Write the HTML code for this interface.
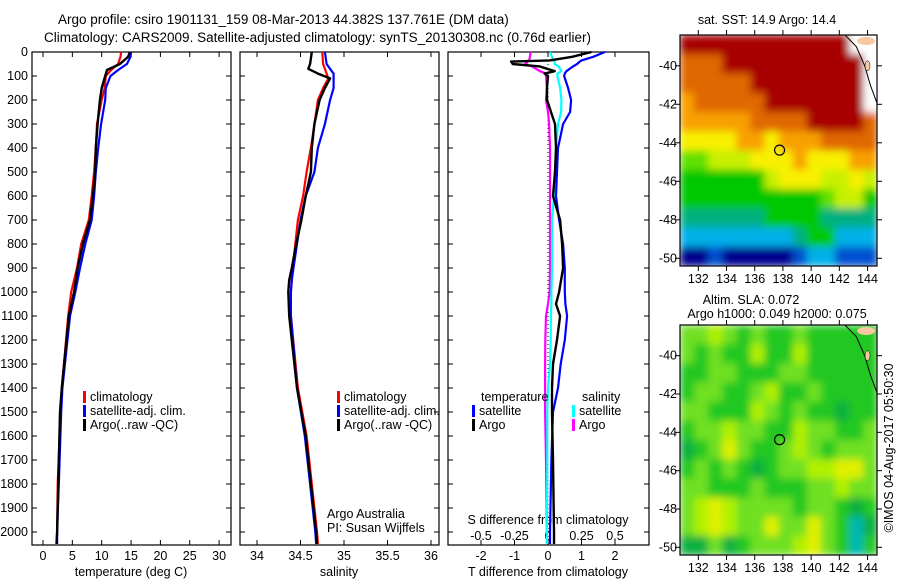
<!DOCTYPE html>
<html><head><meta charset="utf-8"><style>
body{margin:0;background:#fff;}
svg{display:block;font-family:"Liberation Sans",sans-serif;font-size:12.5px;}
</style></head><body>
<svg id="fig" width="900" height="580" xmlns="http://www.w3.org/2000/svg">
<defs>
<filter id="blur" x="0" y="0" width="1" height="1"><feGaussianBlur stdDeviation="4" edgeMode="duplicate"/></filter>
<clipPath id="clip1"><rect x="680" y="35" width="197" height="231"/></clipPath>
<clipPath id="clip2"><rect x="680" y="325" width="197" height="230"/></clipPath>
</defs>
<rect width="900" height="580" fill="#fff"/>
<text x="58" y="24" font-size="13.5">Argo profile: csiro 1901131_159 08-Mar-2013 44.382S 137.761E (DM data)</text>
<text x="44" y="42" font-size="13.5">Climatology: CARS2009. Satellite-adjusted climatology: synTS_20130308.nc (0.76d earlier)</text>
<g id="g"></g>
</svg>
<script>
// ---- profile data (depth m) ----
const depthT=[0,20,50,75,100,150,200,300,400,500,600,700,800,900,1000,1100,1400,1500,1800,2000,2050];
const tempArgo=[14.8,14.5,13.1,10.9,10.6,10.0,9.7,9.3,9.0,8.9,8.5,8.0,6.8,5.9,5.3,4.4,3.2,2.9,2.6,2.4,2.3];
const tempClim=[13.3,13.2,12.8,11.6,10.7,10.5,10.0,9.2,9.0,8.7,8.3,7.8,6.5,5.8,4.8,4.3,3.2,3.0,2.5,2.4,2.3];
const tempSat=[15.0,14.9,14.3,12.8,11.5,10.7,10.6,9.9,9.4,9.0,8.7,8.3,7.2,6.3,5.5,4.6,3.3,3.1,2.7,2.4,2.4];
const depthS=[0,50,70,90,110,150,200,300,400,500,600,700,800,900,950,1000,1100,1400,1600,1800,2000,2050];
const salArgo=[34.63,34.61,34.59,34.70,34.84,34.78,34.72,34.66,34.63,34.62,34.56,34.51,34.45,34.40,34.37,34.36,34.37,34.46,34.56,34.62,34.68,34.69];
const salClim=[34.75,34.76,34.78,34.80,34.82,34.76,34.70,34.66,34.62,34.57,34.53,34.47,34.44,34.41,34.40,34.39,34.39,34.47,34.57,34.63,34.69,34.70];
const salSat=[34.78,34.80,34.84,34.88,34.88,34.88,34.84,34.78,34.70,34.66,34.56,34.50,34.46,34.42,34.40,34.39,34.39,34.46,34.55,34.61,34.67,34.68];
const depthD=[0,20,35,40,50,60,80,90,100,150,200,250,300,400,500,600,700,800,900,1000,1050,1100,1200,1300,1400,1500,1700,2000,2050];
const dTSat=[1.7,1.35,1.0,0.95,0.87,0.75,0.55,0.5,0.48,0.6,0.69,0.66,0.45,0.3,0.27,0.24,0.33,0.45,0.5,0.5,0.52,0.57,0.5,0.38,0.3,0.15,0.1,0.06,0.06];
const dTArgo=[1.3,0.72,0.05,-1.1,-1.05,-0.25,0.2,-0.1,0.0,-0.03,-0.03,0.09,0.21,0.24,0.21,0.15,0.36,0.42,0.45,0.33,0.24,0.36,0.27,0.15,0.12,0.12,0.15,0.18,0.18];
const dSSat=[0.015,0.03,0.04,0.05,0.05,0.08,0.1,0.07,0.07,0.09,0.1,0.098,0.075,0.06,0.052,0.045,0.03,0.03,0.03,0.025,0.025,0.022,0.02,0.015,0.0,-0.005,-0.005,-0.008,-0.008];
const dSArgo=[-0.13,-0.135,-0.14,-0.15,-0.17,-0.12,-0.06,-0.015,-0.015,-0.008,-0.015,0.0,0.008,0.015,0.015,0.015,0.015,0.015,0.015,0.012,0.0,-0.015,-0.02,-0.022,-0.022,-0.022,-0.015,-0.008,-0.008];
// ---- map data (1 degree cells, 14 lon x 12 lat) ----
const sstRows=[
"10 10 10 10 10 10 10 10 10 10 10 10 -1 -1",
"9 9 9 10 10 10 10 10 10 10 10 10 10 -1",
"9 9 9 9 9 10 10 10 10 10 10 10 10 -1",
"8 9 9 9 9 9 10 10 10 10 10 10 10 -1",
"8 8 8 8 8 9 9 9 9 10 10 10 10 9",
"7 7 7 7 8 8 7 8 8 8 9 9 9 9",
"5 5 6 6 6 7 7 7 8 7 7 7 8 8",
"4 4 4 4 4 4 6 7 7 7 6 6 7 6",
"4 4 4 4 4 4 4 4 4 4 5 6 6 4",
"3 3 3 3 3 3 4 4 4 4 3 3 3 3",
"2 2 2 2 2 2 2 2 3 4 4 2 2 2",
"0 0 1 0 0 0 0 0 1 2 2 1 1 1"];
const slaRows=[
"3 3 4 3 2 3 2 2 3 2 2 2 2 2",
"3 2 3 2 2 4 2 2 4 2 2 2 2 2",
"2 2 3 3 2 2 2 3 3 2 2 2 2 2",
"2 3 3 2 2 3 4 2 2 3 2 2 2 2",
"3 3 2 2 2 4 3 2 3 2 2 1 2 2",
"2 3 3 4 3 3 2 2 4 3 3 2 2 3",
"1 2 3 5 3 2 2 3 4 3 2 3 3 3",
"2 3 2 3 2 1 2 3 3 4 4 5 5 3",
"3 3 2 2 2 3 2 2 2 3 3 4 3 3",
"3 4 5 4 3 3 3 3 2 3 3 2 1 2",
"3 4 5 4 3 3 5 3 3 5 3 2 0 1",
"1 1 3 1 2 3 3 3 4 5 3 2 0 2"];
const lonTicks=[132,134,136,138,140,142,144];
const latTicks=[-40,-42,-44,-46,-48,-50];
const argoLon=137.761, argoLat=-44.382;

const NS='http://www.w3.org/2000/svg';
const G=document.getElementById('g');
function mk(tag,attrs,parent,txt){const e=document.createElementNS(NS,tag);for(const k in attrs)e.setAttribute(k,attrs[k]);if(txt!==undefined)e.textContent=txt;(parent||G).appendChild(e);return e;}

const yTop=52, yBot=545, pxm=0.24;
const yD=d=>yTop+d*pxm;
function line(xs,ds,xf,col,w,name){
  const p=ds.map((d,i)=>xf(xs[i]).toFixed(1)+','+yD(d).toFixed(1));
  const e=mk('polyline',{points:p.join(' '),fill:'none',stroke:col,'stroke-width':w,'stroke-linejoin':'round'});
  
  
}
function frame(x0,x1,name){
  const e=mk('rect',{x:x0,y:yTop,width:x1-x0,height:yBot-yTop,fill:'none',stroke:'#000','stroke-width':1.2});
  
  
  for(let d=0;d<=2000;d+=100){const y=yD(d);
    mk('line',{x1:x0,x2:x0+5,y1:y,y2:y,stroke:'#000'});mk('line',{x1:x1-5,x2:x1,y1:y,y2:y,stroke:'#000'});}
}
function xticks(vals,xf,labs,ly,tick){
  vals.forEach((v,i)=>{const x=xf(v);
    if(tick){mk('line',{x1:x,x2:x,y1:yBot,y2:yBot-5,stroke:'#000'});mk('line',{x1:x,x2:x,y1:yTop,y2:yTop+5,stroke:'#000'});}
    const t=mk('text',{x:x,y:ly,'text-anchor':'middle'},G,labs[i]);
    
    
  });
}
function legend(x,y,items,name){
  items.forEach((it,i)=>{
    mk('rect',{x:x,y:y+i*14-10,width:3,height:12,fill:it[0]});
    const t=mk('text',{x:x+7,y:y+i*14},G,it[1]);
    
    
  });
}
for(let d=0;d<=2000;d+=100){const t=mk('text',{x:28,y:yD(d)+4,'text-anchor':'end'},G,String(d));
  
  }
// panel 1 temperature
const xT=v=>43+v*5.87;
frame(32,231,'temperature-panel');
xticks([0,5,10,15,20,25,30],xT,['0','5','10','15','20','25','30'],560,true);
mk('text',{x:131,y:576,'text-anchor':'middle'},G,'temperature (deg C)');
line(tempClim,depthT,xT,'#f00',2.2,'temperature-climatology-line');
line(tempSat,depthT,xT,'#00f',2.2,'temperature-satellite-line');
line(tempArgo,depthT,xT,'#000',2.4,'temperature-argo-line');
legend(83,401,[['#f00','climatology'],['#00f','satellite-adj. clim.'],['#000','Argo(..raw -QC)']],'temperature-legend-entry');
// panel 2 salinity
const xS=v=>257+(v-34)*87;
frame(240,439,'salinity-panel');
xticks([34,34.5,35,35.5,36],xS,['34','34.5','35','35.5','36'],560,true);
mk('text',{x:339,y:576,'text-anchor':'middle'},G,'salinity');
line(salClim,depthS,xS,'#f00',2.2,'salinity-climatology-line');
line(salSat,depthS,xS,'#00f',2.2,'salinity-satellite-line');
line(salArgo,depthS,xS,'#000',2.4,'salinity-argo-line');
legend(337,401,[['#f00','climatology'],['#00f','satellite-adj. clim.'],['#000','Argo(..raw -QC)']],'salinity-legend-entry');
mk('text',{x:327,y:518},G,'Argo Australia');
mk('text',{x:327,y:532},G,'PI: Susan Wijffels');
// panel 3 differences
const xDT=v=>548+v*33.5, xDS=v=>548+v*134;
frame(448,649,'difference-panel');
xticks([-2,-1,0,1,2],xDT,['-2','-1','0','1','2'],560,true);
xticks([-0.5,-0.25,0,0.25,0.5],xDS,['-0.5','-0.25','0','0.25','0.5'],540,false);
mk('text',{x:548,y:524,'text-anchor':'middle'},G,'S difference from climatology');
mk('text',{x:548,y:576,'text-anchor':'middle'},G,'T difference from climatology');
mk('line',{x1:548,x2:548,y1:yTop,y2:yBot,stroke:'#000','stroke-dasharray':'1,3'});
line(dSArgo,depthD,xDS,'#f0f',2.2,'s-diff-argo-line');
line(dSSat,depthD,xDS,'#0ff',2.2,'s-diff-satellite-line');
line(dTSat,depthD,xDT,'#00f',2.2,'t-diff-satellite-line');
line(dTArgo,depthD,xDT,'#000',2.4,'t-diff-argo-line');
mk('text',{x:481,y:401},G,'temperature');
mk('text',{x:582,y:401},G,'salinity');
legend(472,415,[['#00f','satellite'],['#000','Argo']],'t-diff-legend-entry');
legend(572,415,[['#0ff','satellite'],['#f0f','Argo']],'s-diff-legend-entry');

// ---- maps ----
const sstCol=['#00008f','#0050d0','#00b0e8','#00b080','#00c800','#60e000','#c8f000','#f8f000','#f8a000','#e06800','#a80000'];
const slaCol=['#00b8b0','#10b040','#20c820','#70e020','#b0f000','#e0f000','#f0d800'];
function map(top,bot,rows,cols,name,clip){
  const L=680,R=877,lon0=130.7,lat0=-38.4;
  const pxLon=14.1, pxLat=(bot-top)/12;
  const xf=lo=>L+(lo-lon0)*pxLon, yf=la=>top+(lat0-la)*pxLat;
  const g=mk('g',{});
  
  
  const cg=mk('g',{'clip-path':'url(#'+clip+')'},g);
  const fg=mk('g',{filter:'url(#blur)'},cg);
  rows.forEach((r,i)=>{r.split(' ').map(Number).forEach((v,j)=>{
    const x0=xf(lon0+j),x1=xf(lon0+j+1),y0=yf(lat0-i),y1=yf(lat0-i-1);
    const c=mk('rect',{x:x0,y:y0,width:x1-x0+0.5,height:y1-y0+0.5,fill:v<0?'#fff':cols[v]},fg);
    
    
  });});
  mk('path',{d:`M${xf(142.4)},${top} L${xf(143.2)},${yf(-39)} L${xf(143.8)},${yf(-40)} L${xf(144.2)},${yf(-41)} L${xf(144.7)},${yf(-42)}`,fill:'none',stroke:'#000','stroke-width':1},cg);
  mk('ellipse',{cx:xf(143.9),cy:top+6,rx:9,ry:4,fill:'#f8c8a0'},cg);
  mk('ellipse',{cx:xf(144.0),cy:yf(-40),rx:2.5,ry:5,fill:'#f8c8a0',stroke:'#000','stroke-width':0.5},cg);
  mk('rect',{x:L,y:top,width:R-L,height:bot-top,fill:'none',stroke:'#000','stroke-width':1.2},g);
  lonTicks.forEach(lo=>{const x=xf(lo);mk('line',{x1:x,x2:x,y1:top,y2:top-5,stroke:'#000'},g);mk('line',{x1:x,x2:x,y1:bot,y2:bot+5,stroke:'#000'},g);
    const t=mk('text',{x:x,y:bot+17,'text-anchor':'middle'},g,String(lo));});
  latTicks.forEach(la=>{const y=yf(la);mk('line',{x1:L,x2:L-5,y1:y,y2:y,stroke:'#000'},g);mk('line',{x1:R,x2:R+5,y1:y,y2:y,stroke:'#000'},g);
    const t=mk('text',{x:L-3,y:y+4,'text-anchor':'end'},g,String(la));});
  const c=mk('circle',{cx:xf(argoLon),cy:yf(argoLat),r:5,fill:'none',stroke:'#000','stroke-width':1.2},g);
  
  
}
map(35,266,sstRows,sstCol,'sst-map','clip1');
map(325,555,slaRows,slaCol,'sla-map','clip2');
mk('text',{x:767,y:24,'text-anchor':'middle'},G,'sat. SST: 14.9 Argo: 14.4');
mk('text',{x:751,y:304,'text-anchor':'middle'},G,'Altim. SLA: 0.072');
mk('text',{x:777,y:318,'text-anchor':'middle'},G,'Argo h1000: 0.049 h2000: 0.075');
const st=mk('text',{x:0,y:0,'text-anchor':'middle',transform:'translate(893,448) rotate(-90)'},G,'©IMOS 04-Aug-2017 05:50:30');


</script>
</body></html>
